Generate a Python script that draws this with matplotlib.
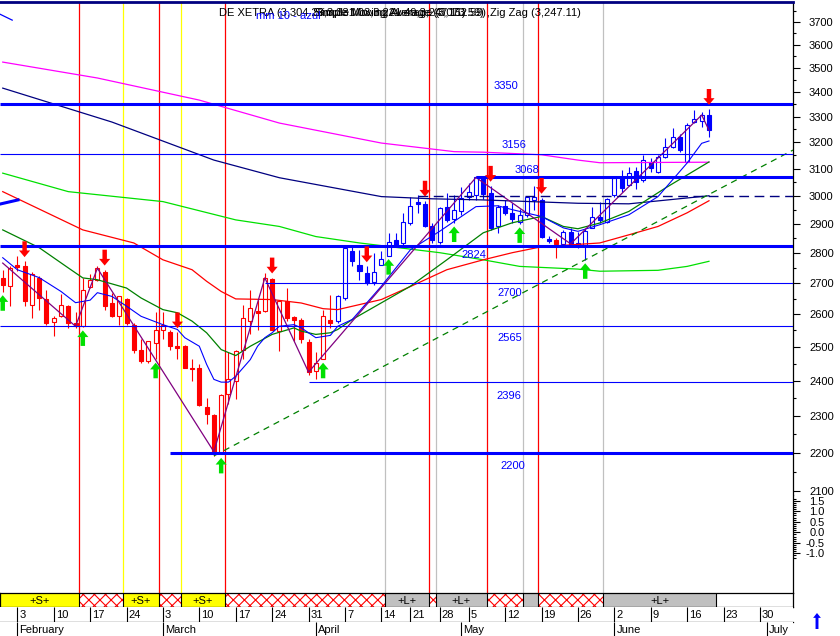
import numpy as np
import pandas as pd
import matplotlib
matplotlib.use("Agg")
import matplotlib.pyplot as plt
from matplotlib.patches import Rectangle
from matplotlib.ticker import FixedLocator, FuncFormatter, NullFormatter

plt.rcParams["font.family"] = ["Liberation Sans", "DejaVu Sans"]
plt.rcParams["hatch.linewidth"] = 0.8

# trading calendar, XETRA holidays left out
holidays = ["2003-04-18", "2003-04-21", "2003-05-01"]
days = pd.bdate_range("2003-01-30", "2003-07-04")
days = days[~days.isin(pd.to_datetime(holidays))]

def sess(d):
    return int(days.get_loc(pd.Timestamp(d)))

# DAX candles, Jan 30 .. Jun 19 2003
opens = [2718, 2689, 2758, 2755, 2631, 2717, 2650, 2577, 2594, 2626, 2574, 2563, 2686, 2711,
         2738, 2636, 2594, 2650, 2566, 2492, 2457, 2512, 2553, 2544, 2502, 2502, 2438, 2438,
         2324, 2302, 2199, 2361, 2399, 2492, 2579, 2610, 2610, 2714, 2548, 2641, 2591, 2584,
         2514, 2428, 2465, 2584, 2579, 2653, 2805, 2761, 2733, 2702, 2761, 2791, 2845, 2834,
         2903, 2979, 2971, 2893, 2836, 2959, 2917, 2944, 2995, 3003, 3067, 3009, 2893, 2962,
         2939, 2908, 2932, 2985, 2983, 2847, 2845, 2831, 2870, 2828, 2828, 2887, 2925, 2908,
         3003, 3066, 3040, 3091, 3058, 3126, 3088, 3145, 3183, 3222, 3126, 3278, 3283, 3307]
highs = [2744, 2757, 2791, 2772, 2738, 2722, 2679, 2594, 2665, 2631, 2606, 2718, 2730, 2755,
         2744, 2669, 2659, 2653, 2574, 2523, 2519, 2606, 2609, 2553, 2544, 2507, 2463, 2448,
         2350, 2307, 2361, 2484, 2492, 2631, 2679, 2647, 2733, 2718, 2647, 2684, 2596, 2590,
         2523, 2484, 2615, 2663, 2663, 2822, 2822, 2811, 2755, 2801, 2805, 2869, 2869, 2939,
         2997, 3003, 2982, 2903, 2960, 3009, 3003, 3033, 3047, 3072, 3072, 3036, 2967, 2985,
         2975, 2953, 3000, 3036, 2992, 2859, 2852, 2879, 2887, 2873, 2883, 2960, 2979, 2993,
         3069, 3095, 3107, 3107, 3152, 3139, 3152, 3215, 3257, 3231, 3275, 3327, 3320, 3331]
lows = [2672, 2625, 2741, 2626, 2590, 2615, 2568, 2533, 2593, 2558, 2558, 2561, 2684, 2708,
        2615, 2593, 2568, 2568, 2482, 2452, 2453, 2463, 2523, 2492, 2463, 2436, 2399, 2327,
        2277, 2192, 2196, 2333, 2347, 2463, 2538, 2553, 2609, 2550, 2487, 2579, 2517, 2512,
        2418, 2404, 2463, 2559, 2574, 2647, 2755, 2711, 2695, 2695, 2758, 2791, 2825, 2822,
        2897, 2939, 2890, 2835, 2831, 2908, 2903, 2932, 2985, 2985, 2989, 2879, 2869, 2932,
        2904, 2900, 2925, 2950, 2851, 2835, 2783, 2824, 2822, 2816, 2777, 2885, 2902, 2903,
        2997, 3015, 3034, 3025, 3052, 3086, 3083, 3139, 3177, 3164, 3125, 3274, 3261, 3221]
closes = [2695, 2751, 2752, 2641, 2730, 2652, 2572, 2589, 2629, 2574, 2563, 2679, 2711, 2749,
          2626, 2594, 2657, 2574, 2492, 2457, 2517, 2550, 2568, 2502, 2496, 2438, 2433, 2330,
          2307, 2203, 2358, 2406, 2489, 2589, 2620, 2605, 2717, 2553, 2641, 2590, 2584, 2523,
          2425, 2453, 2594, 2574, 2657, 2818, 2772, 2739, 2700, 2736, 2780, 2836, 2828, 2905,
          2962, 2971, 2893, 2845, 2956, 2912, 2950, 2991, 3015, 3067, 3007, 2885, 2959, 2939,
          2917, 2932, 2995, 2997, 2854, 2839, 2831, 2870, 2831, 2835, 2876, 2925, 2914, 2988,
          3066, 3030, 3083, 3052, 3132, 3101, 3145, 3183, 3222, 3170, 3267, 3291, 3307, 3247]
red_candle_days = ["2003-05-21"]
red_until = "2003-04-03"

# moving averages: session number -> value
magenta_s = [0, 13, 27, 38, 52, 62, 66, 74, 79, 82, 97]
magenta_v = [3525, 3458, 3367, 3275, 3197, 3164, 3162, 3152, 3132, 3122, 3124]
navy_s = [0, 15, 29, 38, 52, 59, 66, 79, 86, 97]
navy_v = [3416, 3279, 3132, 3066, 2997, 2989, 2985, 2973, 2971, 3000]
lime_s = [0, 9, 22, 32, 38, 43, 49, 60, 66, 71, 79, 82, 90, 94, 97]
lime_v = [3083, 3015, 2979, 2914, 2891, 2856, 2834, 2801, 2777, 2755, 2746, 2739, 2742, 2755, 2772]
red_s = [0, 11, 18, 22, 26, 28, 30, 32, 37, 41, 44, 46, 52, 56, 61, 66, 70, 74, 82, 86, 90, 94, 97]
red_v = [3015, 2879, 2834, 2777, 2744, 2706, 2673, 2649, 2647, 2636, 2618, 2615, 2647, 2689,
         2744, 2777, 2801, 2821, 2834, 2862, 2891, 2939, 2982]
dgreen_s = [0, 5, 9, 11, 13, 17, 19, 22, 24, 26, 28, 30, 32, 34, 37, 40, 41, 43, 45, 46, 48,
            56, 61, 66, 70, 74, 77, 79, 82, 86, 91, 97]
dgreen_v = [2879, 2818, 2750, 2717, 2711, 2684, 2652, 2615, 2605, 2579, 2543, 2492, 2474, 2502,
            2538, 2558, 2548, 2538, 2543, 2553, 2584, 2690, 2777, 2869, 2904, 2926, 2891, 2883,
            2903, 2944, 3028, 3125]
blue_s = [0, 2, 5, 8, 10, 12, 13, 15, 17, 19, 22, 24, 25, 27, 28, 29, 30, 31, 32, 34, 35, 36,
          37, 38, 40, 41, 43, 45, 46, 48, 52, 56, 60, 63, 65, 68, 70, 74, 77, 79, 82, 86, 90,
          94, 96, 97]
blue_v = [2784, 2744, 2718, 2673, 2637, 2645, 2669, 2657, 2626, 2594, 2568, 2553, 2528, 2502,
          2448, 2404, 2396, 2396, 2413, 2462, 2502, 2528, 2543, 2563, 2568, 2558, 2528, 2535,
          2563, 2584, 2690, 2811, 2874, 2926, 2961, 2964, 2950, 2926, 2886, 2874, 2897, 2932,
          2997, 3121, 3196, 3205]
# short trend pieces entering from the left edge
seg_top_s, seg_top_v = [-0.4, 1.3], [3735, 3708]
seg_mid_s, seg_mid_v = [-0.4, 2.1], [2970, 2985]

zigzag_start = 2766
zigzag_days = ["2003-02-13", "2003-02-18", "2003-03-12", "2003-03-21", "2003-03-31",
               "2003-05-06", "2003-05-23", "2003-06-18", "2003-06-19"]
trend_days = ["2003-03-12", "2003-05-27"]

sell_days = ["2003-02-04", "2003-02-19", "2003-03-05", "2003-03-24", "2003-04-10",
             "2003-04-24", "2003-05-08", "2003-05-19", "2003-06-19"]
buy_days = ["2003-01-30", "2003-02-14", "2003-02-28", "2003-03-13", "2003-04-02",
            "2003-04-15", "2003-04-30", "2003-05-14", "2003-05-27"]

levels = [3350, 3156, 3068, 3000, 2824, 2700, 2565, 2396, 2200]
level_from = [None, None, "2003-05-06", "2003-04-23", None, "2003-03-21", None, "2003-03-31", "2003-03-04"]
level_kind = ["thick", "thin", "thick", "dash", "thick", "thin", "thin", "thin", "thick"]

# signal bands: start day and kind (S = short, L = long, X = out)
band_start = ["2003-01-30", "2003-02-14", "2003-02-24", "2003-03-03", "2003-03-06", "2003-03-14",
              "2003-04-15", "2003-04-25", "2003-04-28", "2003-05-08", "2003-05-15", "2003-05-19",
              "2003-05-30"]
band_kind = ["S", "X", "S", "X", "S", "X", "L", "X", "L", "X", "L", "X", "L"]
band_end = "2003-06-19"

# ---------------------------------------------------------------
W, H = 840, 636
fig = plt.figure(figsize=(W / 100, H / 100), dpi=100)

def rect(x0, y0, x1, y1):
    return [x0 / W, 1 - y1 / H, (x1 - x0) / W, (y1 - y0) / H]

ax = fig.add_axes(rect(0, 2, 793, 495))
axi = fig.add_axes(rect(0, 495, 793, 593))
axb = fig.add_axes(rect(0, 593, 793, 607))
axd = fig.add_axes(rect(0, 607, 793, 622))
axm = fig.add_axes(rect(0, 622, 793, 636))
xlim = (-0.376, 108.54)
for a in (ax, axi, axb, axd, axm):
    a.set_xlim(*xlim)
    a.set_xticks([])

BLUE, NAVY = "#0000ff", "#000080"

# band row and vertical signal lines
edges = [sess(d) - 0.5 for d in band_start]
edges[0] = xlim[0]
edges.append(sess(band_end) + 1.0)
axb.set_ylim(0, 1)
vcol = {"X": "#ff0000", "S": "#ffff00", "L": "#c0c0c0"}
for k, kind in enumerate(band_kind):
    x0, x1 = edges[k], edges[k + 1]
    if kind == "X":
        axb.add_patch(Rectangle((x0, 0), x1 - x0, 1, facecolor="white", edgecolor="#ff0000",
                                hatch="xxx", lw=0))
    else:
        axb.add_patch(Rectangle((x0, 0), x1 - x0, 1, facecolor=vcol[kind], lw=0))
        if (x1 - x0) * 7.28 > 25:
            axb.text((x0 + x1) / 2, 0.45, "+%s+" % kind, ha="center", va="center", fontsize=8)
    if k > 0:
        for a in (ax, axi):
            a.axvline(x0, color=vcol[kind], lw=0.9, zorder=1)
axb.vlines(edges[1:], 0, 1, color="black", lw=0.8)
for s in ("top", "bottom", "left", "right"):
    axb.spines[s].set_linewidth(0.9)
axb.set_yticks([])

# week row
axd.set_ylim(0, 1)
axd.set_yticks([])
for s in ("left", "right", "top"):
    axd.spines[s].set_visible(False)
axd.spines["bottom"].set_linewidth(0.9)
weeks = pd.Series(days, index=days).groupby(days - pd.to_timedelta(days.weekday, unit="D")).first()
for monday, first in weeks.items():
    if monday < days[0]:
        continue
    p = sess(first)
    axd.vlines(p, 0, 1, color="black", lw=0.8)
    axd.annotate(str(monday.day), (p, 0.45), xytext=(2, 0), textcoords="offset pixels",
                 ha="left", va="center", fontsize=8)

# month row
axm.set_ylim(0, 1)
axm.set_yticks([])
for s in axm.spines.values():
    s.set_visible(False)
months = pd.Series(days, index=days).groupby(days.to_period("M")).first()
for per, first in months.items():
    if first == days[0]:
        continue
    p = sess(first)
    axm.vlines(p, 0, 1, color="black", lw=0.8)
    axm.annotate(first.strftime("%B"), (p, 0.45), xytext=(2, 0), textcoords="offset pixels",
                 ha="left", va="center", fontsize=8)

# price panel
ax.set_yscale("log")
ax.set_ylim(2091, 3790)
ax.yaxis.tick_right()
ax.yaxis.set_major_locator(FixedLocator(range(2100, 3701, 100)))
ax.yaxis.set_minor_locator(FixedLocator(range(2150, 3751, 100)))
ax.yaxis.set_major_formatter(FuncFormatter(lambda v, p: "%d" % round(v)))
ax.yaxis.set_minor_formatter(NullFormatter())
ax.tick_params(axis="y", which="major", length=5, width=0.8, pad=6.5, labelsize=8)
ax.tick_params(axis="y", which="minor", length=2.4, width=0.8)
for s in ("left", "bottom"):
    ax.spines[s].set_visible(False)
ax.spines["top"].set_color(NAVY)
ax.spines["top"].set_linewidth(2)
ax.spines["right"].set_linewidth(0.9)

axi.set_ylim(-2.89, 1.776)
axi.yaxis.tick_right()
axi.set_yticks([-1.0, -0.5, 0.0, 0.5, 1.0, 1.5])
axi.set_yticklabels(["%.1f" % v for v in [-1.0, -0.5, 0.0, 0.5, 1.0, 1.5]])
axi.yaxis.set_minor_locator(FixedLocator(np.arange(-1.2, 1.65, 0.1)))
axi.tick_params(axis="y", which="major", length=5, width=0.8, pad=18, labelsize=8)
axi.tick_params(axis="y", which="minor", length=2.4, width=0.8)
for lab in axi.get_yticklabels():
    lab.set_horizontalalignment("right")
for s in ("left", "bottom", "top"):
    axi.spines[s].set_visible(False)
axi.spines["right"].set_linewidth(0.9)

# candles
o, h, l, c = map(np.array, (opens, highs, lows, closes))
xc = np.arange(len(c))
cd = days[:len(c)]
is_red = (cd <= pd.Timestamp(red_until)) | cd.isin(pd.to_datetime(red_candle_days))
col = np.where(is_red, "#ff0000", BLUE)
up = c >= o
ax.vlines(xc, l, h, colors=col, lw=0.8, zorder=3)
ax.bar(xc, np.abs(c - o), bottom=np.minimum(o, c), width=0.55,
       color=np.where(up, "white", col), edgecolor=col, lw=0.8, zorder=4)

# moving averages
ax.plot(magenta_s, magenta_v, color="#ff00ff", lw=0.9, zorder=5)
ax.plot(navy_s, navy_v, color=NAVY, lw=0.9, zorder=5)
ax.plot(lime_s, lime_v, color="#00e000", lw=0.9, zorder=5)
ax.plot(red_s, red_v, color="#ff0000", lw=0.9, zorder=5)
ax.plot(dgreen_s, dgreen_v, color="#008000", lw=0.9, zorder=5)
ax.plot(blue_s, blue_v, color=BLUE, lw=0.8, zorder=5)
ax.plot(seg_top_s, seg_top_v, color=BLUE, lw=0.9, zorder=5)
ax.plot(seg_mid_s, seg_mid_v, color=BLUE, lw=2.2, zorder=5)

# zig zag on closes
zz_x = [0] + [sess(d) for d in zigzag_days]
zz_y = [zigzag_start] + [closes[sess(d)] for d in zigzag_days]
ax.plot(zz_x, zz_y, color="#800080", lw=0.9, zorder=5)

# trend line through the two lows, extended to the right edge
t0, t1 = sess(trend_days[0]), sess(trend_days[1])
slope = (np.log(lows[t1]) - np.log(lows[t0])) / (t1 - t0)
tx = np.array([t0, xlim[1]])
ax.plot(tx, np.exp(np.log(lows[t0]) + slope * (tx - t0)), color="#008000", lw=0.9,
        dashes=(5, 4), zorder=5)

# support / resistance levels
label_at = {3350: (69.1, 18), 3156: (70.2, 9), 3068: (72.0, 7), 2824: (64.7, -9),
            2700: (69.7, -10), 2565: (69.7, -12), 2396: (69.5, -14), 2200: (70.0, -13)}
for lev, start, kind in zip(levels, level_from, level_kind):
    x0 = xlim[0] if start is None else sess(start)
    if kind == "dash":
        ax.hlines(lev, x0, xlim[1], color=NAVY, lw=1.0, linestyles=(0, (7, 4)), zorder=6)
        continue
    ax.hlines(lev, x0, xlim[1], color=BLUE, lw=2.2 if kind == "thick" else 0.8, zorder=6)
    lx, dy = label_at[lev]
    ax.annotate(str(lev), (lx, lev), xytext=(0, dy), textcoords="offset pixels",
                ha="center", va="center", fontsize=8, color=BLUE, zorder=7)

# signal arrows
astyle = "simple,head_length=0.6,head_width=1.0,tail_width=0.4"
for d in sell_days:
    i = sess(d)
    ax.annotate("", (i, highs[i]), xytext=(0, 20), textcoords="offset pixels",
                arrowprops=dict(arrowstyle=astyle, mutation_scale=8, fc="#ff0000", ec="none",
                                shrinkA=0, shrinkB=3), zorder=8)
for d in buy_days:
    i = sess(d)
    ax.annotate("", (i, lows[i]), xytext=(0, -19), textcoords="offset pixels",
                arrowprops=dict(arrowstyle=astyle, mutation_scale=8, fc="#00e000", ec="none",
                                shrinkA=0, shrinkB=2.5), zorder=8)

# header texts (the legends are drawn on top of each other in the original)
def ftext(x, y, s, **kw):
    fig.text(x / W, 1 - y / H, s, va="center", fontsize=8, **kw)

ftext(219, 12.5, "DE XETRA (3,304.28,3,331.03,3,221.49,3,247.11)")
ftext(313, 12.5, "Simple Moving Average (3,073.59)")
ftext(315, 12.5, "Simple Moving Average (3,152.59)")
ftext(487, 12.5, ",Zig Zag (3,247.11)")
ftext(256, 16, "mm 10 - azul", color=BLUE)

axm.annotate("", xy=(817, 636 - 613), xycoords="figure pixels", xytext=(817, 636 - 629),
             textcoords="figure pixels", annotation_clip=False,
             arrowprops=dict(arrowstyle="simple,head_length=0.5,head_width=0.8,tail_width=0.3",
                             mutation_scale=7, fc=BLUE, ec="none", shrinkA=0, shrinkB=0))

fig.savefig("out.png", dpi=100)
